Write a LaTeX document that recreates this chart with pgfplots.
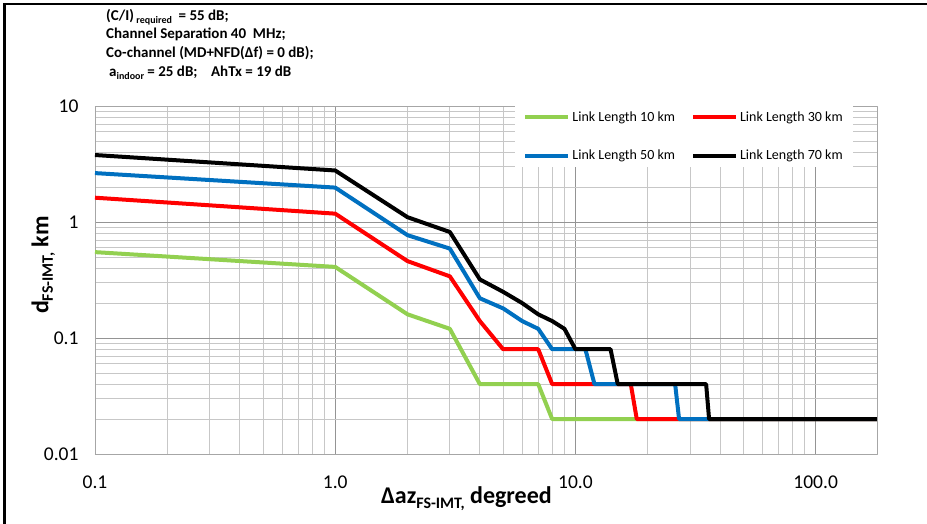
\documentclass[border=0pt]{standalone}
\usepackage{fontspec}
\setmainfont{Carlito}
\usepackage{pgfplots}
\pgfplotsset{compat=1.18}
\definecolor{cgreen}{HTML}{92D050}
\definecolor{cred}{HTML}{FF0000}
\definecolor{cblue}{HTML}{0070C0}
\newcommand{\lsub}[1]{\raisebox{-4.5pt}{\fontsize{16}{16}\selectfont #1}}
\begin{document}
\begin{tikzpicture}[x=1pt,y=1pt]
\path[use as bounding box] (-95,-70) rectangle (832,454);
\fill[white] (-95,-70) rectangle (832,454);
\begin{axis}[
  at={(0,0)}, anchor=south west,
  scale only axis, width=782pt, height=348pt,
  xmode=log, ymode=log,
  xmin=0.1, xmax=180, ymin=0.01, ymax=10,
  xtick={0.1,1,10,100}, xticklabels={0.1,1.0,10.0,100.0},
  ytick={0.01,0.1,1,10}, yticklabels={0.01,0.1,1,10},
  minor xtick={0.2,0.3,0.4,0.5,0.6,0.7,0.8,0.9,2,3,4,5,6,7,8,9,20,30,40,50,60,70,80,90},
  minor ytick={0.02,0.03,0.04,0.05,0.06,0.07,0.08,0.09,0.2,0.3,0.4,0.5,0.6,0.7,0.8,0.9,2,3,4,5,6,7,8,9},
  grid=both,
  major grid style={draw=black!42, line width=0.8pt},
  minor grid style={draw=black!22, line width=0.8pt},
  axis line style={draw=black!35, line width=0.8pt},
  major tick length=0pt, minor tick length=0pt,
  tick label style={font=\fontsize{19.5}{22}\selectfont},
  xticklabel style={anchor=center, yshift=-28pt},
  yticklabel style={anchor=east, xshift=-13pt},
  xlabel={Δaz\lsub{FS-IMT,} degreed},
  ylabel={d\lsub{FS-IMT,} km},
  label style={font=\fontsize{24}{28}\selectfont\bfseries},
  xlabel style={at={(axis description cs:0.475,-0.129)}, anchor=center},
  ylabel style={at={(axis description cs:-0.066,0.543)}, anchor=center, rotate=0},
  legend columns=2,
  legend cell align=left,
  legend image code/.code={\draw[#1, line width=4pt] (0pt,0pt) -- (43pt,0pt);},
  legend style={at={(0.9693,1)}, anchor=north east, draw=none, fill=white,
    inner xsep=8pt, inner ysep=3.5pt, row sep=23pt,
    font=\fontsize{14}{16}\selectfont, nodes={inner xsep=2pt, inner ysep=2pt},
    /tikz/every even column/.append style={column sep=14pt}},
  line join=round,
]
\addplot[cgreen, line width=4pt] coordinates {
 (0.1,0.55) (1,0.41) (2,0.16) (3,0.12) (4,0.04) (7,0.04) (8,0.02) (180,0.02)};
\addlegendentry{Link Length 10 km}
\addplot[cred, line width=4pt] coordinates {
 (0.1,1.62) (1,1.18) (2,0.46) (3,0.34) (4,0.14) (5,0.08) (7,0.08) (8,0.04) (17,0.04) (18,0.02) (180,0.02)};
\addlegendentry{Link Length 30 km}
\addplot[cblue, line width=4pt] coordinates {
 (0.1,2.64) (1,1.98) (2,0.77) (3,0.59) (4,0.22) (5,0.18) (6,0.14) (7,0.12) (8,0.08) (11,0.08) (12,0.04) (26,0.04) (27,0.02) (180,0.02)};
\addlegendentry{Link Length 50 km}
\addplot[black, line width=4pt] coordinates {
 (0.1,3.78) (1,2.78) (2,1.1) (3,0.82) (4,0.32) (5,0.25) (6,0.2) (7,0.16) (8,0.14) (9,0.12) (10,0.08) (14,0.08) (15,0.04) (35,0.04) (36,0.02) (180,0.02)};
\addlegendentry{Link Length 70 km}
\end{axis}
\draw[line width=2.5pt] (-90.5,-75) -- (-90.5,450) -- (840,450);
\begin{scope}[every node/.style={anchor=base west, inner sep=0pt, font=\fontsize{15}{18}\selectfont\bfseries}]
\node at (11,433.5) {(C/I)\,\raisebox{-3pt}{\fontsize{10}{11}\selectfont required}\ \ = 55 dB;};
\node at (11,415.5) {Channel Separation 40\ \ MHz;};
\node at (11,396.5) {Co-channel (MD+NFD(Δf) = 0 dB);};
\node at (14,377.5) {a\raisebox{-3pt}{\fontsize{10}{11}\selectfont indoor} = 25 dB;\ \ \ \ AhTx = 19 dB};
\end{scope}
\end{tikzpicture}
\end{document}
